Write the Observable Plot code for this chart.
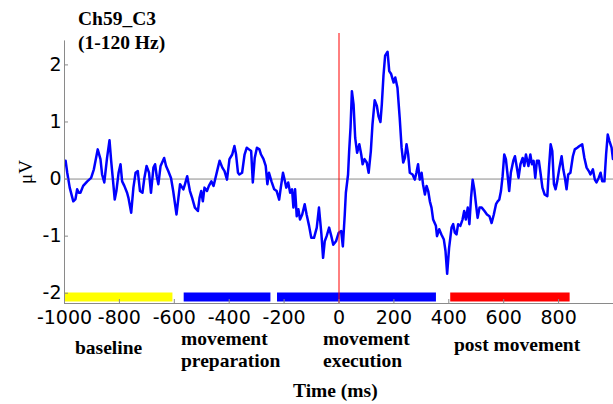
<!DOCTYPE html>
<html><head><meta charset="utf-8">
<script src="https://cdn.jsdelivr.net/npm/d3@7"></script>
<script src="https://cdn.jsdelivr.net/npm/@observablehq/plot@0.6"></script>
<style>
body{margin:0;background:#fff;}
#wrap{position:relative;width:613px;height:404px;overflow:hidden;background:#fff;}
#chart{position:absolute;left:0;top:0;}
.lab{position:absolute;font-family:"Liberation Serif","Times New Roman",serif;font-weight:bold;font-size:19.5px;line-height:22px;color:#000;white-space:nowrap;}
.ylab{position:absolute;font-family:"Liberation Serif","Times New Roman",serif;font-size:19px;line-height:22px;color:#000;white-space:nowrap;transform:translate(-50%,-50%) rotate(-90deg);}
</style></head><body>
<div id="wrap">
<div id="chart"></div>
<div class="lab" style="left:78px;top:8px;">Ch59_C3</div>
<div class="lab" style="left:78px;top:32px;">(1-120 Hz)</div>
<div class="ylab" style="left:26px;top:172px;">μV</div>
<div class="lab" style="left:75px;top:337px;">baseline</div>
<div class="lab" style="left:181px;top:328px;">movement</div>
<div class="lab" style="left:181px;top:350px;">preparation</div>
<div class="lab" style="left:323px;top:328px;">movement</div>
<div class="lab" style="left:323px;top:350px;">execution</div>
<div class="lab" style="left:454px;top:334px;">post movement</div>
<div class="lab" style="left:293px;top:380px;">Time (ms)</div>
</div>
<script>
const times = [-996,-990,-981,-968,-960,-954,-948,-942,-932,-917,-903,-893,-879,-869,-863,-855,-845,-836,-830,-823,-817,-811,-803,-796,-790,-782,-772,
-767,-757,-749,-741,-733,-725,-716,-709,-701,-692,-685,-676,-670,-664,-658,-650,-637,-630,-622,-612,-604,-592,-585,-579,-567,-561,-553,-543,-535,-525,
-514,-508,-502,-496,-490,-481,-474,-465,-457,-450,-441,-435,-425,-417,-408,-399,-389,-381,-375,-368,-363,-353,-344,-336,-328,-320,-314,-307,-299,-290,-284,-275,
-267,-261,-255,-246,-236,-227,-218,-212,-204,-197,-192,-185,-178,-171,-166,-160,-154,-148,-142,-134,-125,-118,-109,-101,-91,-81,-73,-64,-58,-52,-45,-36,-28,-21,
-11,-1,8,14,21,25,33,37,42,47,53,59,66,74,81,86,93,101,108,116,122,130,138,144,151,156,162,168,177,183,190,199,205,213,221,
228,234,240,246,252,258,268,276,282,288,294,301,306,313,319,325,331,337,343,353,357,365,373,382,388,394,401,410,416,422,428,434,442,450,456,462,
469,475,481,487,493,499,505,512,520,530,539,548,556,564,572,578,584,590,596,602,608,614,620,626,635,641,647,654,661,669,675,681,690,697,703,709,715,
721,728,734,741,749,759,765,771,777,783,789,795,803,811,817,823,829,835,843,852,859,868,876,886,894,902,910,916,925,932,938,946,953,959,967,973,979,985,993,998];
const microvolts = [0.32,0.11,-0.15,-0.39,-0.35,-0.18,-0.24,-0.24,-0.12,-0.04,0.02,0.17,0.52,0.35,0.08,-0.06,0.37,0.68,0.32,-0.04,-0.36,-0.21,0.11,0.26,-0.04,-0.12,-0.24,
-0.33,-0.59,-0.15,0.11,0.14,-0.21,-0.24,0.02,0.23,0.11,-0.24,0.20,0.26,0.05,-0.09,0.23,0.37,0.23,0.14,0.02,-0.21,-0.62,-0.33,-0.09,-0.18,-0.09,0.05,-0.21,-0.33,-0.50,
-0.56,-0.33,-0.21,-0.39,-0.15,-0.21,-0.12,-0.04,-0.12,0.02,0.20,0.32,0.20,0.14,-0.01,0.35,0.43,0.58,0.43,0.11,0.08,0.11,0.43,0.55,0.52,0.49,-0.06,0.37,0.55,0.52,0.43,0.35,
0.23,-0.09,0.11,-0.04,-0.18,-0.21,-0.36,-0.15,0.11,-0.04,-0.15,-0.06,-0.24,-0.18,-0.50,-0.18,-0.65,-0.53,-0.71,-0.62,-0.44,-0.62,-0.82,-1.03,-1.03,-0.85,-0.50,-0.97,-1.38,-1.09,-1.00,-0.85,-1.00,-1.15,
-1.09,-0.94,-0.91,-1.18,-0.62,-0.24,0.08,0.49,0.90,1.54,1.31,0.72,0.46,0.61,0.43,0.26,0.35,0.29,0.11,0.49,0.96,1.38,1.28,1.10,1.00,1.31,1.81,2.16,2.23,1.89,1.84,1.69,1.78,1.60,1.08,
0.55,0.29,0.37,0.61,0.43,0.11,0.08,-0.01,0.11,0.26,-0.01,0.11,-0.09,-0.27,-0.12,-0.21,-0.39,-0.50,-0.71,-0.82,-1.00,-0.88,-0.97,-1.06,-1.26,-1.66,-1.21,-0.85,-0.79,-0.94,-0.97,-0.79,-0.82,-0.71,-0.56,-0.71,
-0.50,-0.79,-0.33,-0.01,-0.18,-0.44,-0.68,-0.50,-0.50,-0.56,-0.62,-0.65,-0.77,-0.62,-0.44,-0.39,-0.36,-0.21,0.05,0.43,0.35,0.08,-0.21,0.11,0.32,0.40,0.23,0.02,0.26,0.37,0.23,0.43,0.23,0.43,0.26,0.32,0.02,
0.32,0.32,0.11,-0.15,-0.27,-0.30,0.20,0.61,0.49,-0.09,-0.18,-0.04,0.20,0.40,0.17,0.02,-0.18,0.08,0.11,0.40,0.52,0.55,0.58,0.61,0.37,0.20,0.14,0.08,0.17,-0.01,-0.06,0.02,0.11,-0.04,-0.04,0.43,0.78,0.67,0.55,0.35];

const phaseNames = ["baseline", "movement preparation", "movement execution", "post movement"];
const phaseStart = [-1000, -564, -224, 407];
const phaseEnd = [-605, -248, 355, 842];
const phaseColors = ["#ffff00", "#0000ff", "#0000ff", "#ff0000"];
const phaseLevel = -2.065;

const xDomain = [-1000, 1000];
const yDomain = [-2.18, 2.55];
const yAxisTop = 2.42;
const xTicks = [-1000, -800, -600, -400, -200, 0, 200, 400, 600, 800];
const yTicks = [-2, -1, 0, 1, 2];
const eventTime = [0];

const n = Math.min(times.length, microvolts.length);
const trace = d3.range(n).map(i => ({t: times[i], v: microvolts[i]}));
const phases = phaseNames.map((name, i) => ({name, x1: phaseStart[i], x2: phaseEnd[i], color: phaseColors[i], y: phaseLevel}));

const chart = Plot.plot({
  width: 613, height: 404,
  marginTop: 33, marginBottom: 101, marginLeft: 64, marginRight: 0,
  style: {fontFamily: "DejaVu Sans, sans-serif", fontSize: "19px", color: "#000", background: "#fff"},
  x: {domain: xDomain},
  y: {domain: yDomain},
  marks: [
    Plot.ruleY([0], {stroke: "#8a8a8a", strokeWidth: 1}),
    Plot.ruleY(phases, {x1: "x1", x2: "x2", y: "y", stroke: d => d.color, strokeWidth: 9, strokeLinecap: "butt"}),
    Plot.line(trace, {x: "t", y: "v", stroke: "#0000ff", strokeWidth: 2.5, strokeLinejoin: "round"}),
    Plot.ruleX(eventTime, {y1: yDomain[0], y2: yDomain[1], stroke: "#ff0000", strokeWidth: 1}),
    Plot.ruleX([xDomain[0]], {y1: yDomain[0], y2: yAxisTop, stroke: "#8a8a8a", strokeWidth: 1}),
    Plot.ruleY([yDomain[0]], {stroke: "#8a8a8a", strokeWidth: 1}),
    Plot.axisX({ticks: xTicks, tickSize: -4, tickPadding: 11, tickFormat: d => String(d), stroke: "#8a8a8a", fill: "#000", label: null}),
    Plot.axisY({ticks: yTicks, tickSize: -4, tickPadding: 7, tickFormat: d => String(d), stroke: "#8a8a8a", fill: "#000", label: null})
  ]
});
document.getElementById("chart").appendChild(chart);
</script>
</body></html>
